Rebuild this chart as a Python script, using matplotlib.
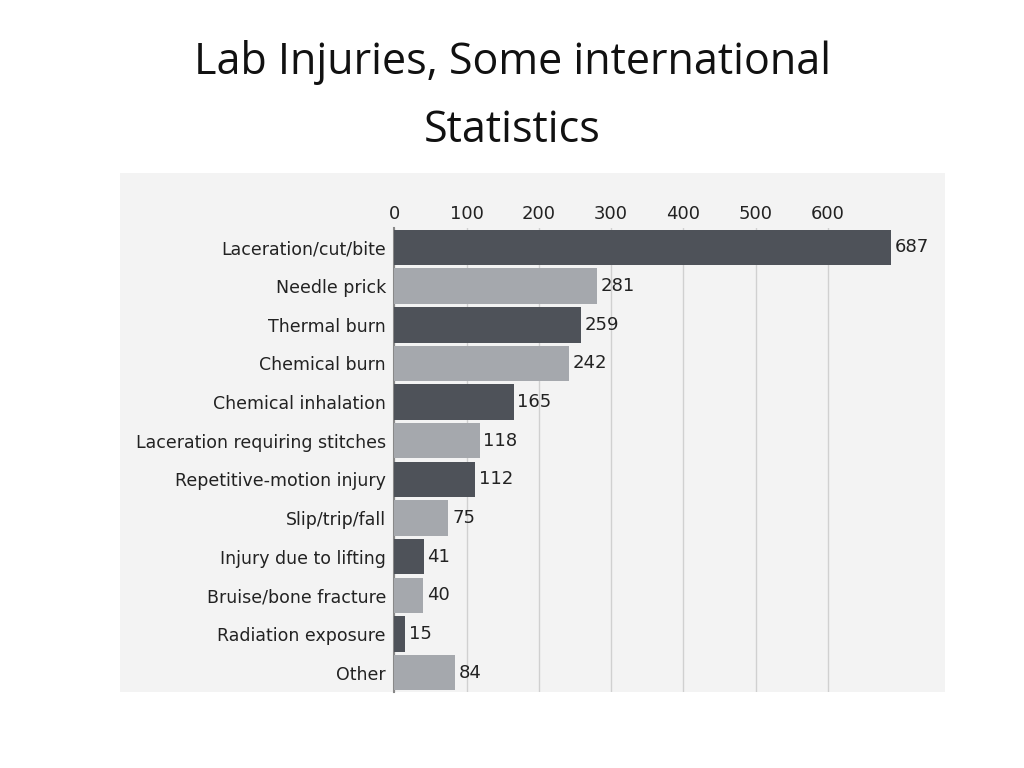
import matplotlib
matplotlib.use('Agg')
from matplotlib import pyplot as plt

categories = ['Laceration/cut/bite', 'Needle prick', 'Thermal burn', 'Chemical burn',
              'Chemical inhalation', 'Laceration requiring stitches', 'Repetitive-motion injury',
              'Slip/trip/fall', 'Injury due to lifting', 'Bruise/bone fracture',
              'Radiation exposure', 'Other']
values = [687, 281, 259, 242, 165, 118, 112, 75, 41, 40, 15, 84]
ticks = [0, 100, 200, 300, 400, 500, 600]

dark = '#4e5259'
light = '#a5a8ad'

fig = plt.figure(figsize=(10.24, 7.68), dpi=100)
fig.patch.set_facecolor('white')

# light grey panel behind the chart
bg = fig.add_axes([0.117, 0.099, 0.806, 0.676], zorder=0)
bg.set_facecolor('#f3f3f3')
bg.set_xticks([])
bg.set_yticks([])
for s in bg.spines.values():
    s.set_visible(False)

fig.text(0.5, 0.918, 'Lab Injuries, Some international', ha='center', va='center',
         fontsize=31, family='Open Sans', color='#111111')
fig.text(0.5, 0.83, 'Statistics', ha='center', va='center',
         fontsize=31, family='Open Sans', color='#111111')

ax = fig.add_axes([0.385, 0.099, 0.538, 0.604], zorder=1)
ax.set_facecolor('#f3f3f3')
ypos = list(range(len(categories)))
colors = [dark if i % 2 == 0 else light for i in ypos]
ax.barh(ypos, values, height=0.92, color=colors, zorder=3)
for y, v in zip(ypos, values):
    ax.text(v + 5, y, str(v), va='center', ha='left', fontsize=13, color='#222222')

ax.set_ylim(len(categories) - 0.5, -0.5)
ax.set_xlim(0, 762)
ax.set_xticks(ticks)
ax.xaxis.tick_top()
ax.tick_params(axis='x', length=0, labelsize=13, colors='#222222', pad=4)
ax.set_yticks(ypos)
ax.set_yticklabels(categories, fontsize=12.5, color='#222222')
ax.tick_params(axis='y', length=0, pad=6)
ax.grid(axis='x', color='#d0d0d0', lw=1, zorder=0)
for s in ['top', 'right', 'bottom']:
    ax.spines[s].set_visible(False)
ax.spines['left'].set_color('#888888')
ax.spines['left'].set_linewidth(1.5)

fig.savefig('out.png', dpi=100)
